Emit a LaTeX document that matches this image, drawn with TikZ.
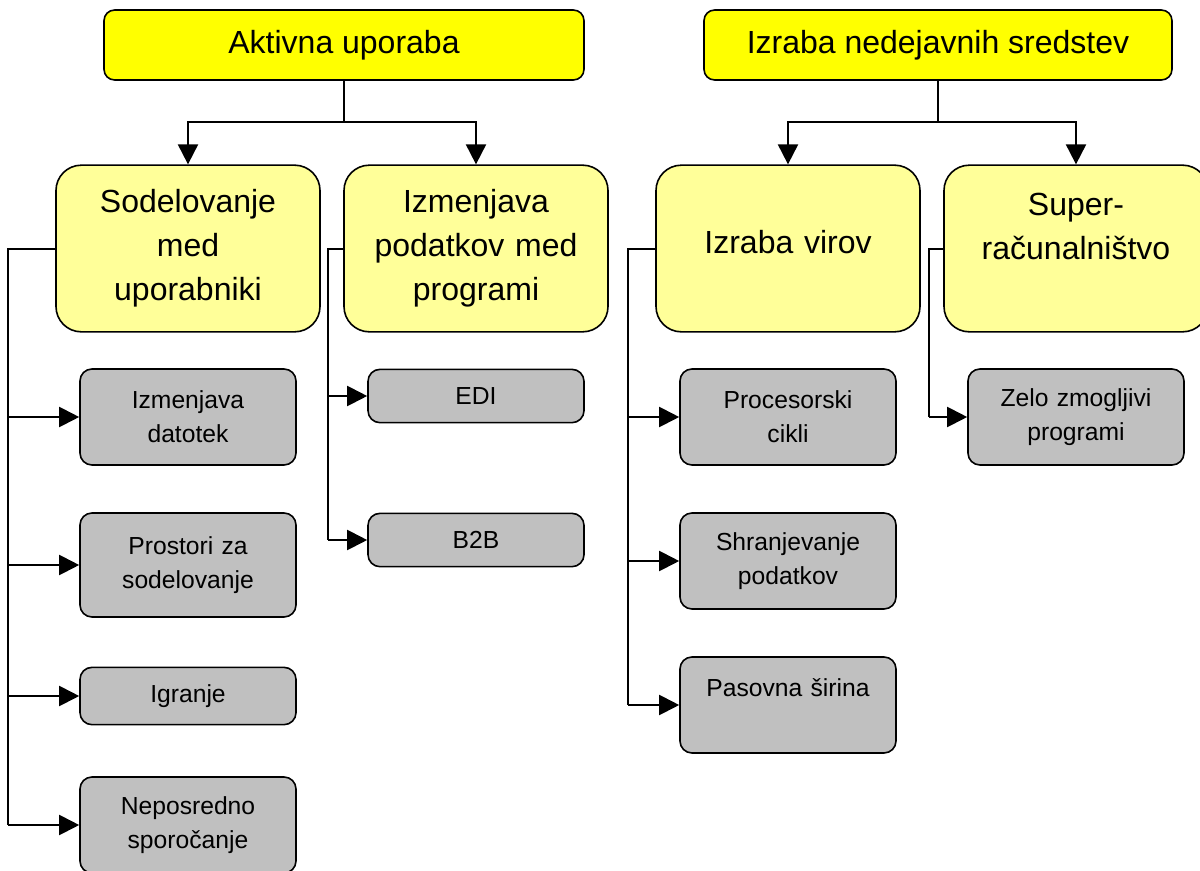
\documentclass[tikz,border=0pt]{standalone}
\usepackage{fontspec}
\setmainfont{Liberation Sans}
\usetikzlibrary{arrows.meta}
\definecolor{topyel}{HTML}{FFFF00}
\definecolor{midyel}{HTML}{FFFF99}
\definecolor{leafgray}{HTML}{C0C0C0}
\begin{document}
\begin{tikzpicture}[x=0.75pt,y=-0.75pt,
  topbox/.style={draw, line width=1.2pt, fill=topyel, rounded corners=8pt, minimum height=52.5pt, inner sep=0pt, font=\fontsize{24}{29}\selectfont},
  midbox/.style={draw, line width=1.2pt, fill=midyel, rounded corners=19pt, minimum width=198pt, minimum height=125pt, inner sep=0pt, text width=190pt, align=center, font=\fontsize{24}{33}\selectfont},
  leafbox/.style={draw, line width=1.2pt, fill=leafgray, rounded corners=9pt, minimum width=162pt, inner sep=0pt, text width=155pt, align=center, font=\fontsize{18.5}{25.5}\selectfont},
  conn/.style={line width=1.5pt},
  arr/.style={conn, -{Triangle[length=15pt,width=15pt]}}
]
\useasboundingbox (0,0) rectangle (1200,871);

% top level
\node[topbox, minimum width=360pt] (A) at (344,45) {Aktivna uporaba};
\node[topbox, minimum width=351pt] (B) at (938,45) {Izraba nedejavnih sredstev};

% second level
\node[midbox] (S1) at (188,248.5) {Sodelovanje\\med\\uporabniki};
\node[midbox] (S2) at (476,248.5) {Izmenjava\\podatkov med\\programi};
\node[midbox] (S3) at (788,248.5) {Izraba virov\\[-23pt]\mbox{}};
\node[midbox] (S4) at (1076,248.5) {Super-\\računalništvo\\\mbox{}};

% leaves
\node[leafbox, minimum height=72pt] (L1) at (188,417) {Izmenjava\\datotek};
\node[leafbox, minimum height=78pt] (L2) at (188,565) {Prostori za\\sodelovanje};
\node[leafbox, minimum height=43pt] (L3) at (188,696) {Igranje};
\node[leafbox, minimum height=72pt] (L4) at (188,825) {Neposredno\\sporočanje};

\node[leafbox, minimum height=40pt] (E1) at (476,396) {EDI};
\node[leafbox, minimum height=40pt] (E2) at (476,540) {B2B};

\node[leafbox, minimum height=72pt] (R1) at (788,417) {Procesorski\\cikli};
\node[leafbox, minimum height=72pt] (R2) at (788,561) {Shranjevanje\\podatkov};
\node[leafbox, minimum height=72pt] (R3) at (788,705) {Pasovna širina\\\mbox{}};

\node[leafbox, minimum height=72pt] (Z1) at (1076,417) {Zelo zmogljivi\\programi};

% top connectors
\coordinate (ja) at (344,122);
\coordinate (jb) at (938,122);
\draw[conn] (A.south) -- (ja);
\draw[arr] (ja) -| (S1.north);
\draw[arr] (ja) -| (S2.north);
\draw[conn] (B.south) -- (jb);
\draw[arr] (jb) -| (S3.north);
\draw[arr] (jb) -| (S4.north);

% branch rails
\coordinate (t1) at (8,0);
\coordinate (t2) at (328,0);
\coordinate (t3) at (628,0);
\coordinate (t4) at (929,0);

\draw[conn] (S1.west) -- (S1.west -| t1) -- (L4.west -| t1);
\foreach \n in {L1,L2,L3,L4} \draw[arr] (\n.west -| t1) -- (\n.west);

\draw[conn] (S2.west) -- (S2.west -| t2) -- (E2.west -| t2);
\foreach \n in {E1,E2} \draw[arr] (\n.west -| t2) -- (\n.west);

\draw[conn] (S3.west) -- (S3.west -| t3) -- (R3.west -| t3);
\foreach \n in {R1,R2,R3} \draw[arr] (\n.west -| t3) -- (\n.west);

\draw[conn] (S4.west) -- (S4.west -| t4) -- (Z1.west -| t4);
\draw[arr] (Z1.west -| t4) -- (Z1.west);
\end{tikzpicture}
\end{document}
